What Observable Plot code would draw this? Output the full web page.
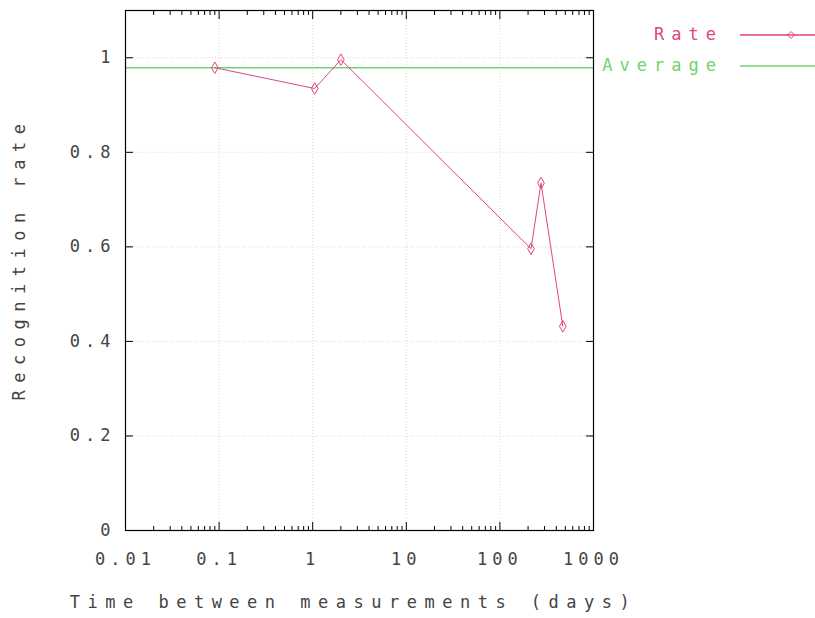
<!DOCTYPE html>
<html>
<head>
<meta charset="utf-8">
<script src="https://cdn.jsdelivr.net/npm/d3@7"></script>
<script src="https://cdn.jsdelivr.net/npm/@observablehq/plot@0.6"></script>
<style>
  body { margin: 0; background: #fff; }
  #wrap { position: relative; width: 815px; height: 618px; }
  #legend { position: absolute; left: 0; top: 0; width: 815px; height: 100px; pointer-events: none;
    font-family: "DejaVu Sans Mono", monospace; font-size: 17px; letter-spacing: 7px; }
  .lg { position: absolute; right: 92px; }
</style>
</head>
<body>
<div id="wrap"></div>
<script>
// Data
const days = [0.09, 1.05, 2.0, 215, 275, 470];
const rate = [0.979, 0.935, 0.996, 0.596, 0.735, 0.432];
const averageRate = 0.979;
const xTicks = [0.01, 0.1, 1, 10, 100, 1000];
const yTicks = [0, 0.2, 0.4, 0.6, 0.8, 1];
const seriesNames = ["Rate", "Average"];
const xTitle = "Time between measurements (days)";
const yTitle = "Recognition rate";

const pink = "#e2457f";
const green = "#6ed46e";
const font = "DejaVu Sans Mono, monospace";

const points = days.map((d, i) => ({days: d, rate: rate[i]}));
const minor = [];
for (let e = -2; e < 3; e++) for (let k = 2; k <= 9; k++) minor.push(k * Math.pow(10, e));

const plot = Plot.plot({
  width: 815,
  height: 618,
  marginLeft: 125,
  marginRight: 222,
  marginTop: 10,
  marginBottom: 88,
  style: {fontFamily: font, fontSize: "17px", color: "#444", background: "#fff"},
  x: {type: "log", domain: [0.01, 1000]},
  y: {domain: [0, 1.1]},
  marks: [
    Plot.gridX(xTicks, {stroke: "#bbb", strokeOpacity: 0.6, strokeDasharray: "1,2"}),
    Plot.gridY(yTicks, {stroke: "#bbb", strokeOpacity: 0.6, strokeDasharray: "1,2"}),
    Plot.axisX(xTicks, {anchor: "bottom", tickSize: -8, text: null, label: null, stroke: "#000"}),
    Plot.axisX(xTicks, {anchor: "top", tickSize: -8, text: null, label: null, stroke: "#000"}),
    Plot.axisX(minor, {anchor: "bottom", tickSize: -4, text: null, label: null, stroke: "#000"}),
    Plot.axisX(minor, {anchor: "top", tickSize: -4, text: null, label: null, stroke: "#000"}),
    Plot.axisX(xTicks, {anchor: "bottom", tickSize: 0, tickPadding: 22, tickFormat: d => String(d),
      label: null, fontSize: 17, fill: "#444"}),
    Plot.axisY(yTicks, {anchor: "left", tickSize: -8, text: null, label: null, stroke: "#000"}),
    Plot.axisY(yTicks, {anchor: "right", tickSize: -8, text: null, label: null, stroke: "#000"}),
    Plot.axisY(yTicks, {anchor: "left", tickSize: 0, tickPadding: 10, tickFormat: d => String(d),
      label: null, fontSize: 17, fill: "#444"}),
    Plot.text([xTitle], {frameAnchor: "bottom", dy: 77, dx: -6, fontSize: 17, fill: "#444"}),
    Plot.text([yTitle], {frameAnchor: "left", textAnchor: "middle", dx: -106, dy: -12, rotate: -90,
      fontSize: 17, fill: "#444"}),
    Plot.ruleY([averageRate], {stroke: green, strokeWidth: 1.5}),
    Plot.line(points, {x: "days", y: "rate", stroke: pink, strokeWidth: 1}),
    Plot.dot(points, {x: "days", y: "rate", stroke: pink, symbol: "diamond", r: 3.5, strokeWidth: 1}),
    Plot.frame({stroke: "#000", strokeWidth: 1.2})
  ]
});
d3.select(plot).selectAll("text").each(function() {
  const t = this.textContent;
  const isTitle = t === xTitle || t === yTitle;
  this.style.letterSpacing = isTitle ? "7.5px" : "5px";
});
const wrap = document.getElementById("wrap");
wrap.appendChild(plot);

// Legend
const leg = document.createElement("div");
leg.id = "legend";
const rows = [{name: seriesNames[0], color: pink, y: 35, marker: true}, {name: seriesNames[1], color: green, y: 66, marker: false}];
let html = "";
for (const r of rows) {
  html += `<div class="lg" style="top:${r.y - 11}px;color:${r.color}">${r.name}</div>`;
}
html += `<svg width="815" height="100" style="position:absolute;left:0;top:0">`;
for (const r of rows) {
  html += `<line x1="740" x2="815" y1="${r.y}" y2="${r.y}" stroke="${r.color}" stroke-width="1.3"/>`;
  if (r.marker) html += `<path d="M791,${r.y - 3.5}L794.5,${r.y}L791,${r.y + 3.5}L787.5,${r.y}Z" fill="none" stroke="${r.color}"/>`;
}
html += `</svg>`;
leg.innerHTML = html;
wrap.appendChild(leg);
</script>
</body>
</html>
